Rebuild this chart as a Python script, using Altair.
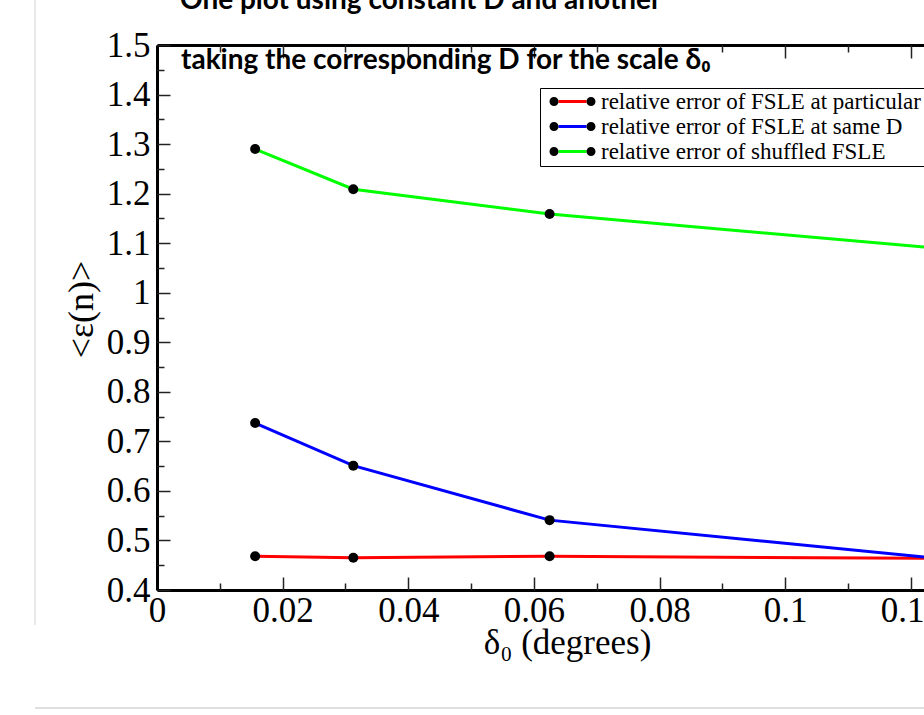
import altair as alt
import pandas as pd

# ---------------- data ----------------
delta0 = [0.015625, 0.03125, 0.0625, 0.125]
err_particular = [0.468, 0.465, 0.468, 0.464]
err_same = [0.737, 0.651, 0.541, 0.463]
err_shuffled = [1.290, 1.209, 1.159, 1.089]

series_names = [
    "relative error of FSLE at particular D",
    "relative error of FSLE at same D",
    "relative error of shuffled FSLE",
]
series_colors = ["#ff0000", "#0000ff", "#00ff00"]

x_major_ticks = [0, 0.02, 0.04, 0.06, 0.08, 0.1, 0.12]
x_minor_ticks = [0.01, 0.03, 0.05, 0.07, 0.09, 0.11]
y_major_ticks = [0.4, 0.5, 0.6, 0.7, 0.8, 0.9, 1.0, 1.1, 1.2, 1.3, 1.4, 1.5]
y_minor_ticks = [0.45, 0.55, 0.65, 0.75, 0.85, 0.95, 1.05, 1.15, 1.25, 1.35, 1.45]

x_domain = [0, 0.1221]
y_domain = [0.4, 1.5]

x_title = "δ₀ (degrees)"
y_title = "<ε(n)>"
top_title = "One plot using constant D and another"
note_text = "taking the corresponding D for the scale δ₀"

SERIF = "Liberation Serif"
SANS = "Lato"

rows = []
for name, vals in zip(series_names, [err_particular, err_same, err_shuffled]):
    for xv, yv in zip(delta0, vals):
        # "marker" carries the same categories (trailing space keeps its legend separate)
        rows.append({"series": name, "marker": name + " ", "delta0": xv, "err": yv})
df = pd.DataFrame(rows)
marker_names = [n + " " for n in series_names]

xs = alt.Scale(domain=x_domain, nice=False, zero=False)
ys = alt.Scale(domain=y_domain, nice=False, zero=False)

# ---------------- axes ----------------
x_main = alt.Axis(
    orient="bottom", values=x_major_ticks, format="~g", ticks=False, tickSize=0,
    domain=True, domainWidth=3, domainColor="black",
    labelFont=SERIF, labelFontSize=35, labelColor="black", labelPadding=3,
    labelFlush=False, labelOverlap=False, grid=False,
    title=x_title, titleFont=SERIF, titleFontSize=35, titleFontWeight="normal",
    titleColor="black", titleX=410, titlePadding=-3,
)
y_main = alt.Axis(
    orient="left", values=y_major_ticks, format="~g", ticks=False, tickSize=0,
    domain=True, domainWidth=3, domainColor="black",
    labelFont=SERIF, labelFontSize=35, labelColor="black", labelPadding=7,
    labelFlush=False, labelOverlap=False, grid=False,
    title=y_title, titleFont=SERIF, titleFontSize=36, titleFontWeight="normal",
    titleColor="black", titlePadding=6, titleY=264,
)


def tick_axis(orient, values, size):
    return alt.Axis(
        orient=orient, values=values, offset=-size, tickSize=size, tickWidth=1.5,
        tickColor="#222222", domain=False, labels=False, grid=False, title=None,
    )


legend_a = alt.Legend(
    title=None, orient="none", legendX=383, legendY=43,
    symbolType="M-1.9,0L1.9,0", symbolSize=219, symbolStrokeWidth=3,
    symbolFillColor="transparent", symbolOpacity=1, symbolOffset=19,
    labelFont=SERIF, labelFontSize=23, labelColor="black", labelLimit=1000,
    labelOffset=17, strokeColor="black", padding=2, rowPadding=1,
)
legend_b = alt.Legend(
    title=None, orient="none", legendX=383, legendY=43,
    symbolType=(
        "M-1.89,0A0.61,0.61 0 1,0 -3.11,0A0.61,0.61 0 1,0 -1.89,0Z"
        "M3.11,0A0.61,0.61 0 1,0 1.89,0A0.61,0.61 0 1,0 3.11,0Z"
    ),
    symbolSize=219, symbolStrokeWidth=0, symbolOpacity=1, symbolOffset=19,
    labelFont=SERIF, labelFontSize=23, labelOpacity=0, labelLimit=1000,
    labelOffset=17, padding=2, rowPadding=1,
)

# ---------------- layers ----------------
lines = alt.Chart(df).mark_line(strokeWidth=3, clip=True).encode(
    x=alt.X("delta0:Q", scale=xs, axis=x_main),
    y=alt.Y("err:Q", scale=ys, axis=y_main),
    stroke=alt.Stroke("series:N", scale=alt.Scale(domain=series_names, range=series_colors),
                      legend=legend_a),
)

points = alt.Chart(df).mark_point(filled=True, size=100, opacity=1, clip=True).encode(
    x=alt.X("delta0:Q", scale=xs, axis=None),
    y=alt.Y("err:Q", scale=ys, axis=None),
    fill=alt.Fill("marker:N", scale=alt.Scale(domain=marker_names, range=["black"] * 3),
                  legend=legend_b),
)


def x_tick_layer(axis):
    return alt.Chart(df).mark_point(opacity=0).encode(
        x=alt.X("delta0:Q", scale=xs, axis=axis)
    )


def y_tick_layer(axis):
    return alt.Chart(df).mark_point(opacity=0).encode(
        y=alt.Y("err:Q", scale=ys, axis=axis)
    )


top_frame = x_tick_layer(alt.Axis(
    orient="top", values=x_major_ticks, ticks=False, labels=False, domain=True,
    domainWidth=3, domainColor="black", grid=False, title=None,
))

page = pd.DataFrame({"a": [0]})
vline = alt.Chart(page).mark_rule(color="#d4d4d4", strokeWidth=1).encode(
    x=alt.value(-122), y=alt.value(-45), y2=alt.value(580)
)
hline = alt.Chart(page).mark_rule(color="#d4d4d4", strokeWidth=1.5).encode(
    x=alt.value(-122), x2=alt.value(767), y=alt.value(663)
)

title_mark = alt.Chart(pd.DataFrame({"t": [top_title]})).mark_text(
    align="left", baseline="alphabetic", font=SANS, fontWeight="bold",
    fontSize=28, color="black",
).encode(text="t:N", x=alt.value(23), y=alt.value(-36))

note = alt.Chart(pd.DataFrame({"note": [note_text]})).mark_text(
    align="left", baseline="alphabetic", font=SANS, fontWeight="bold",
    fontSize=28, color="black",
).encode(text="note:N", x=alt.value(24), y=alt.value(24))

layers = [
    vline,
    hline,
    lines,
    points,
    top_frame,
    x_tick_layer(tick_axis("bottom", x_major_ticks, 13)),
    x_tick_layer(tick_axis("bottom", x_minor_ticks, 7)),
    x_tick_layer(tick_axis("top", x_major_ticks, 13)),
    x_tick_layer(tick_axis("top", x_minor_ticks, 7)),
    y_tick_layer(tick_axis("left", y_major_ticks, 13)),
    y_tick_layer(tick_axis("left", y_minor_ticks, 7)),
    title_mark,
    note,
]

chart = alt.layer(*layers).resolve_axis(
    x="independent", y="independent"
).properties(
    width=767,
    height=545,
    autosize=alt.AutoSizeParams(type="none"),
    padding={"left": 157, "top": 45, "right": 0, "bottom": 125},
    background="white",
).configure_view(stroke=None)

chart.save("out.html", embed_options={"renderer": "svg", "actions": False})
